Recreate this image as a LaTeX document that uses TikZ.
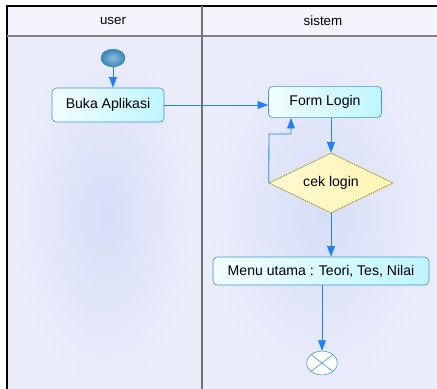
\documentclass[tikz,border=0pt]{standalone}
\usepackage{fontspec}
\setmainfont{Liberation Sans}
\usetikzlibrary{arrows.meta,shapes.geometric}

\definecolor{lane}{RGB}{236,237,251}
\definecolor{laneblue}{RGB}{214,222,246}
\definecolor{flow}{RGB}{30,128,255}
\definecolor{actline}{RGB}{60,150,215}
\definecolor{actfill}{RGB}{190,246,255}
\definecolor{decline}{RGB}{165,155,50}
\definecolor{decfill}{RGB}{255,246,180}
\definecolor{startfill}{RGB}{55,135,185}

\tikzset{
  activity/.style={draw=actline, rounded corners=3pt, left color=white!80!actfill,
    right color=actfill, font=\fontsize{10}{12}\selectfont, inner sep=2pt},
  decision/.style={draw=decline, diamond, shape aspect=2, inner sep=0pt,
    left color=decfill!60!white, right color=decfill, font=\fontsize{10}{12}\selectfont},
  flowline/.style={draw=flow, semithick, -{Triangle[length=7.5pt,width=5.5pt]}}
}

\begin{document}
\begin{tikzpicture}[x=0.025cm, y=-0.025cm]

    % Canvas and swimlanes
    \useasboundingbox (0,0) rectangle (437,389);
    \fill[white] (0,0) rectangle (437,389);
    \fill[lane] (7,6) rectangle (437,389);
    \shade[inner color=laneblue, outer color=lane] (12,40) rectangle (198,389);
    \shade[inner color=laneblue, outer color=lane] (206,40) rectangle (437,389);
    \fill[lane!60!white] (8,7) rectangle (437,36);

    \draw[line width=1pt] (7,389) -- (7,6) -- (437,6);
    \draw[gray, line width=0.8pt] (7,36) -- (437,36);
    \draw[gray!90!black, line width=1.2pt] (202,6) -- (202,389);

    % Lane titles
    \node[font=\fontsize{9.5}{12}\selectfont] (user) at (113,21) {user};
    \node[font=\fontsize{9.5}{12}\selectfont] (sistem) at (323,21) {sistem};

    % Start and end
    \node[ellipse, draw=startfill, inner color=startfill!55!white, outer color=startfill,
      minimum width=0.6cm, minimum height=0.44cm, inner sep=0pt] (start) at (113,58) {};
    \node[circle, draw=actline, fill=white, minimum size=0.7cm, inner sep=0pt,
      xscale=1.1, yscale=0.85] (end) at (322,363) {};
    \draw[actline] (end.north west) -- (end.south east);
    \draw[actline] (end.north east) -- (end.south west);

    % Activities
    \node[activity, minimum width=2.8cm, minimum height=0.85cm] (buka) at (108,105) {Buka Aplikasi};
    \node[activity, minimum width=2.825cm, minimum height=0.78cm] (form) at (325,102) {Form Login};
    \node[decision, minimum width=3.1cm, minimum height=1.5cm] (cek) at (331,183) {cek login};
    \node[activity, minimum width=5.4cm, minimum height=0.7cm] (menu) at (321,271) {Menu utama : Teori, Tes, Nilai};

    % Flow
    \coordinate (loopa) at (269,134);
    \coordinate (loopb) at (291,134);
    \draw[flowline] (start) -- (buka.north -| start);
    \draw[flowline] (buka) -- (form.west |- buka);
    \draw[flowline] (form.south -| cek.north) -- (cek.north);
    \draw[flowline] (cek.west) -- (loopa) -- (loopb) -- (form.south -| loopb);
    \draw[flowline] (cek.south) -- (menu.north -| cek.south);
    \draw[flowline] (menu.south -| end) -- (end.north);

\end{tikzpicture}
\end{document}
